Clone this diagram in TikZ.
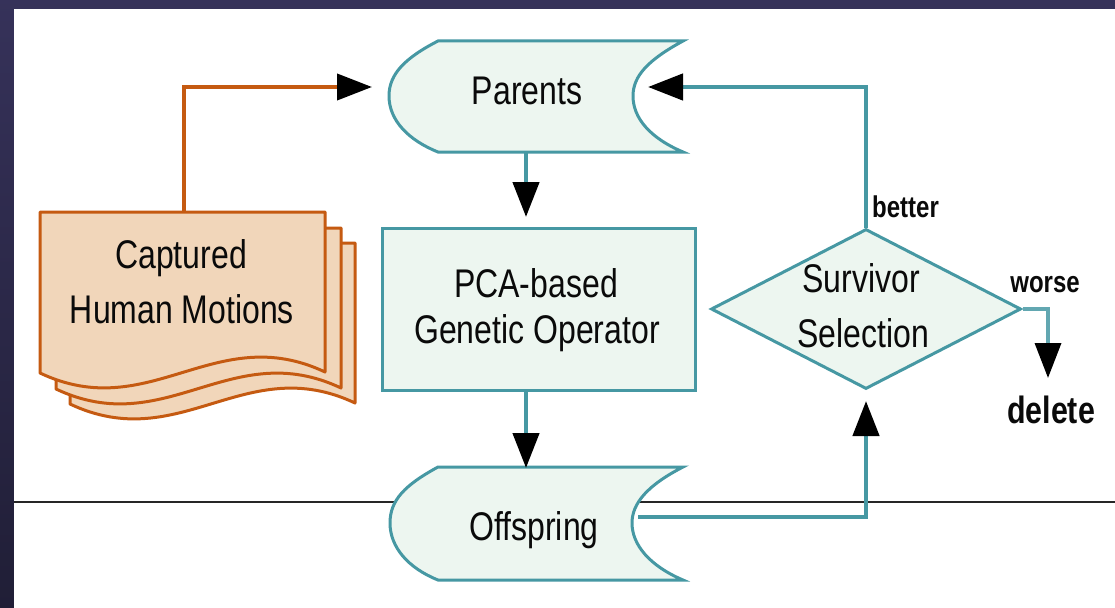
\documentclass[tikz,border=0pt]{standalone}
\usepackage{fontspec}
\setmainfont{Liberation Sans}[FakeStretch=0.8]
\usetikzlibrary{arrows.meta,shapes.geometric}
\definecolor{bgtop}{RGB}{54,50,90}
\definecolor{bgbot}{RGB}{32,30,54}
\definecolor{orng}{RGB}{197,90,17}
\definecolor{peach}{RGB}{241,214,186}
\definecolor{tealc}{RGB}{70,152,163}
\definecolor{mint}{RGB}{237,246,240}
\definecolor{ink}{RGB}{10,10,10}
\tikzset{
  bigtxt/.style={font=\fontsize{40}{46}\selectfont, text=ink, inner sep=0pt, anchor=base},
  smalltxt/.style={font=\fontsize{30}{34}\selectfont\bfseries, text=ink, inner sep=0pt, anchor=base},
  deltxt/.style={font=\fontsize{38}{42}\selectfont\bfseries, text=ink, inner sep=0pt, anchor=base},
  shapeT/.style={draw=tealc, fill=mint, line width=3pt},
  shapeO/.style={draw=orng, fill=peach, line width=3pt, line join=round},
  tipblk/.style={-{Triangle[length=35pt,width=26pt,color=black]}},
  conT/.style={draw=tealc, line width=4.5pt, tipblk},
  conO/.style={draw=orng, line width=4pt, tipblk},
}
\begin{document}
\begin{tikzpicture}[x=1pt,y=-1pt]
\useasboundingbox (0,0) rectangle (1115,607);
% background frame
\shade[top color=bgtop, bottom color=bgbot] (-5,-5) rectangle (1120,612);
\fill[white] (14,9) rectangle (1120,612);
% thin black rule
\draw[line width=1.4pt, black!85] (14,502) -- (1120,502);

% captured human motions (stack of documents)
\foreach \dx/\dy in {30/31,16/16,0/0}{
  \path[shapeO, shift={(\dx,\dy)}] (40,212) -- (325,212) -- (325,372)
     .. controls (215,320) and (150,425) .. (40,373) -- cycle;
}
\coordinate (cap-top) at (184,212);
\node[bigtxt] (cap1) at (181,268) {Captured};
\node[bigtxt] (cap2) at (182,323) {Human Motions};

% parents
\path[shapeT] (438,41) -- (683,41) .. controls (648,60) and (633,76) .. (633,96)
   .. controls (633,118) and (650,138) .. (683,152) -- (438,152)
   .. controls (408,140) and (389,120) .. (389,96)
   .. controls (389,74) and (405,58) .. (438,41) -- cycle;
\node[bigtxt] (par) at (527,105) {Parents};
\coordinate (par-bot) at (526,152);
\coordinate (par-inL) at (372,87);
\coordinate (par-inR) at (648,87);

% PCA box
\node[rectangle, shapeT, minimum width=313pt, minimum height=162pt, inner sep=0pt] (pca) at (538.5,309.5) {};
\node[bigtxt] (pca1) at (536,297) {PCA-based};
\node[bigtxt] (pca2) at (537,343) {Genetic Operator};

% offspring
\path[shapeT] (438,467) -- (683,467) .. controls (648,485) and (632,503) .. (632,523)
   .. controls (632,545) and (650,566) .. (683,580) -- (438,580)
   .. controls (408,568) and (390,547) .. (390,523)
   .. controls (390,500) and (405,485) .. (438,467) -- cycle;
\node[bigtxt] (off) at (534,540) {Offspring};
\coordinate (off-top) at (526,467);
\coordinate (off-out) at (638,517);

% survivor selection
\node[diamond, shapeT, minimum width=310pt, minimum height=160pt, inner sep=0pt] (sel) at (866,309) {};
\node[bigtxt] (sel1) at (861,292) {Survivor};
\node[bigtxt] (sel2) at (863,347) {Selection};
\coordinate (sel-in) at (866,401);
\coordinate (del-in) at (1048,378);

% labels
\node[smalltxt, anchor=base west] (better) at (872,217) {better};
\node[smalltxt] (worse) at (1045,292) {worse};
\node[deltxt] (delete) at (1051,423) {delete};

% connectors
\draw[conO] (cap-top) |- (par-inL);
\draw[conT] (par-bot) -- ([yshift=10pt]par-bot |- pca.north);
\draw[conT] (par-bot |- pca.south) -- ([yshift=-1pt]off-top);
\draw[conT] (off-out) -| (sel-in);
\draw[conT] (sel.north) |- (par-inR);
\draw[conT, line width=3.5pt, draw=tealc!85] (sel.east) -| (del-in);
\end{tikzpicture}
\end{document}
